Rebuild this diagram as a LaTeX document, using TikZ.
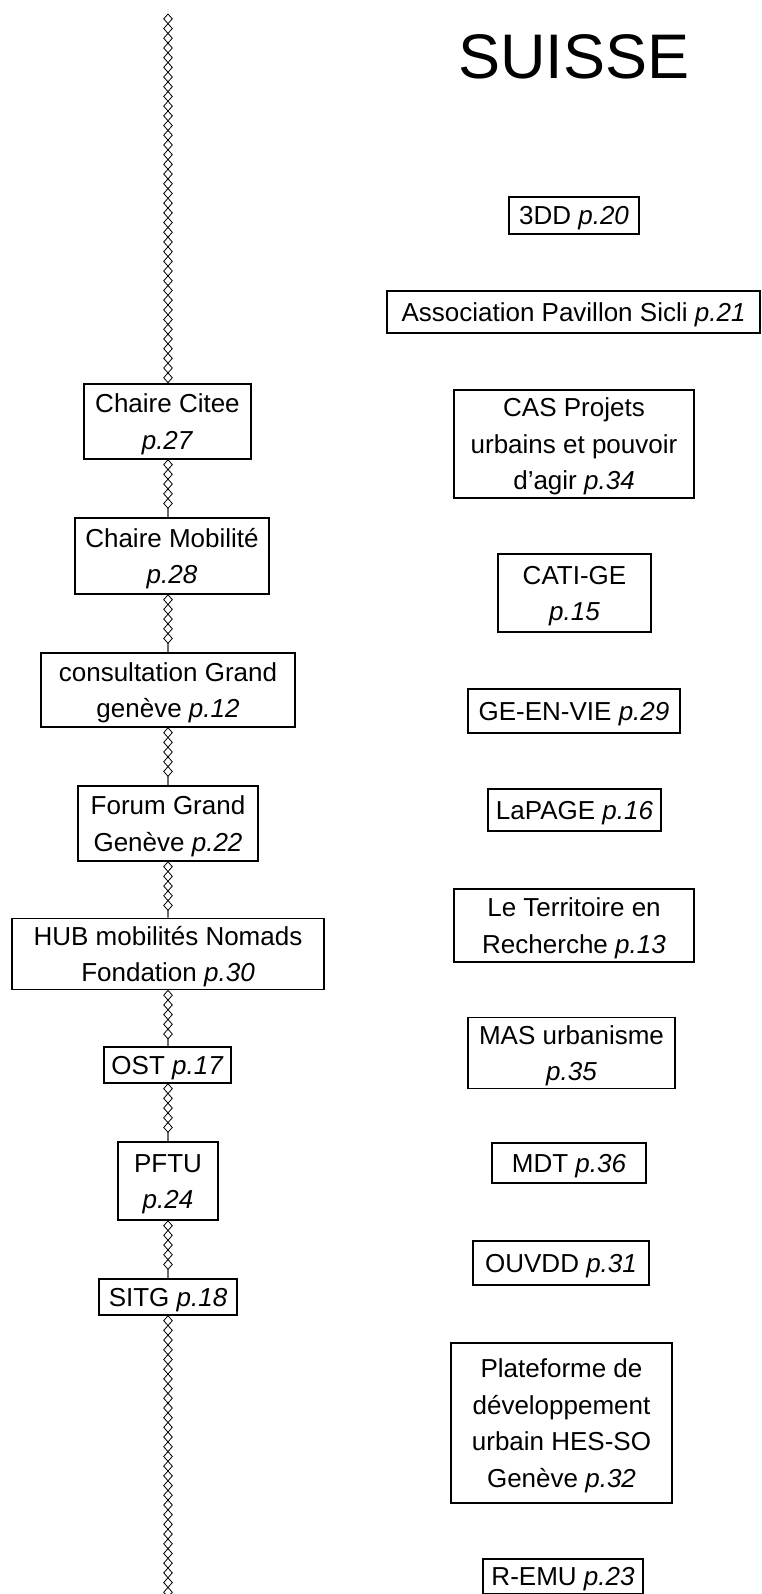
\documentclass[tikz,border=0pt]{standalone}
\usepackage{fontspec}
\setmainfont{Liberation Sans}
\usetikzlibrary{decorations.pathmorphing}

\newcommand{\pg}[1]{\textit{p.#1}}

\begin{document}
\begin{tikzpicture}[x=1pt, y=-1pt,
  every node/.style = {shape=rectangle, draw, fill=white, line width=1.6pt,
    inner sep=0pt, align=center, font=\fontsize{26}{36.5}\selectfont,
    execute at begin node={\rule{0pt}{26.6pt}},
    execute at end node={\rule[-8pt]{0pt}{8pt}}},
  nlines/.style = {execute at begin node={\rule{0pt}{\dimexpr 26.6pt+36.5pt*(#1-1)\relax}}},
  chain/.style = {line width=0.8pt, decorate,
    decoration={zigzag, segment length=19.4pt, amplitude=4.3pt}},
  chainm/.style = {chain, decoration={mirror}}]

  \useasboundingbox (0,0) rectangle (762,1594);

  \coordinate (chaintop) at (168,14);
  \coordinate (chainbot) at (168,1600);

  % left column
  \node[nlines=2, minimum width=167pt, minimum height=75pt] (citee) at (167.5,421.5) {Chaire Citee\\\pg{27}};
  \node[nlines=2, minimum width=194pt, minimum height=76pt] (mobilite) at (172,556) {Chaire Mobilité\\\pg{28}};
  \node[nlines=2, minimum width=254pt, minimum height=74pt] (consult) at (168,690) {consultation Grand\\genève \pg{12}};
  \node[nlines=2, minimum width=180pt, minimum height=75pt] (forum) at (168,823.5) {Forum Grand\\Genève \pg{22}};
  \node[nlines=2, minimum width=312pt, minimum height=70pt] (hub) at (168,954) {HUB mobilités Nomads\\Fondation \pg{30}};
  \node[minimum width=127pt, minimum height=36pt] (ost) at (167.5,1065) {OST \pg{17}};
  \node[nlines=2, minimum width=100pt, minimum height=78pt] (pftu) at (168,1181) {PFTU\\\pg{24}};
  \node[minimum width=138pt, minimum height=36pt] (sitg) at (168,1297) {SITG \pg{18}};

  % right column
  \node[draw=none, fill=none, anchor=base, font=\fontsize{63}{72}\selectfont,
    execute at begin node={}, execute at end node={}] (suisse) at (574,79) {SUISSE};
  \node[minimum width=130pt, minimum height=37pt] (tdd) at (574,215.5) {3DD \pg{20}};
  \node[minimum width=373pt, minimum height=42pt] (sicli) at (573.5,312) {Association Pavillon Sicli \pg{21}};
  \node[nlines=3, minimum width=240pt, minimum height=108pt] (cas) at (574,444) {CAS Projets\\urbains et pouvoir\\d’agir \pg{34}};
  \node[nlines=2, minimum width=153pt, minimum height=78pt] (cati) at (574.5,593) {CATI-GE\\\pg{15}};
  \node[minimum width=212pt, minimum height=44pt] (geenvie) at (574,711) {GE-EN-VIE \pg{29}};
  \node[minimum width=173pt, minimum height=42pt] (lapage) at (574.5,810) {LaPAGE \pg{16}};
  \node[nlines=2, minimum width=240pt, minimum height=73pt] (territoire) at (574,925.5) {Le Territoire en\\Recherche \pg{13}};
  \node[nlines=2, minimum width=207pt, minimum height=70pt] (mas) at (571.5,1053) {MAS urbanisme\\\pg{35}};
  \node[minimum width=154pt, minimum height=40pt] (mdt) at (569,1163) {MDT \pg{36}};
  \node[minimum width=176pt, minimum height=44pt] (ouvdd) at (561,1263) {OUVDD \pg{31}};
  \node[nlines=4, minimum width=221pt, minimum height=160pt] (plateforme) at (561.5,1423) {Plateforme de\\développement\\urbain HES-SO\\Genève \pg{32}};
  \node[minimum width=160pt, minimum height=34pt] (remu) at (563,1576) {R-EMU \pg{23}};

  % chain between the left boxes
  \foreach \a/\b in {chaintop/citee.north, citee.south/mobilite.north,
      mobilite.south/consult.north, consult.south/forum.north,
      forum.south/hub.north, hub.south/ost.north, ost.south/pftu.north,
      pftu.south/sitg.north, sitg.south/chainbot} {
    \draw[chain] (\a -| chaintop) -- (\b -| chaintop);
    \draw[chainm] (\a -| chaintop) -- (\b -| chaintop);
  }
\end{tikzpicture}
\end{document}
